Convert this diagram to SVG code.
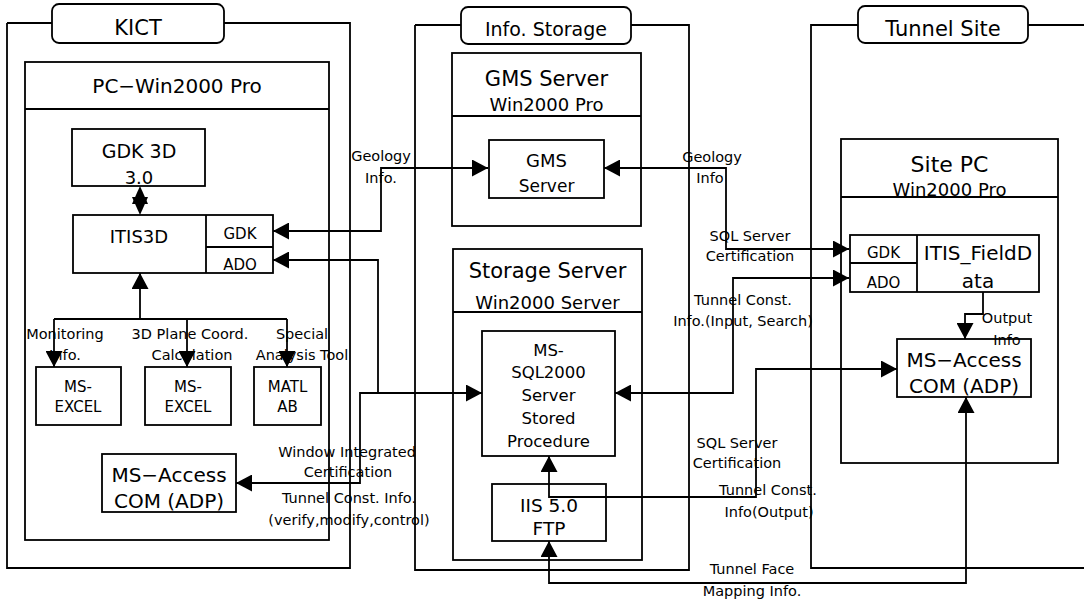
<svg xmlns="http://www.w3.org/2000/svg" width="1084" height="600" viewBox="0 0 1084 600">
<style>
rect,.bx{fill:#fff;stroke:#000;stroke-width:1.8}
.ln{fill:none;stroke:#000;stroke-width:1.8}
.cn{fill:none;stroke:#000;stroke-width:1.8}
text{font-family:"DejaVu Sans","Liberation Sans",sans-serif;fill:#000;text-anchor:middle}
.lb{font-size:14.5px}
</style>
<defs>
<marker id="ah" viewBox="0 0 16 17" refX="16" refY="8.5" markerWidth="16" markerHeight="17" markerUnits="userSpaceOnUse" orient="auto-start-reverse"><path d="M0,0L16,8.5L0,17z" fill="#000"/></marker>
</defs>

<g id="kict">
<path class="ln" d="M7,23V568H350V23H7"/>
<rect x="52" y="4" width="172" height="39" rx="7"/>
<text x="138" y="35" font-size="21">KICT</text>
</g>
<g id="pc">
<rect x="25" y="62" width="304" height="478"/>
<path class="ln" d="M25,109H329"/>
<text x="177" y="93" font-size="20">PC−Win2000 Pro</text>
</g>
<g id="gdk3d">
<rect x="72" y="129" width="133" height="57"/>
<text x="139" y="158" font-size="19">GDK 3D</text>
<text x="139" y="184" font-size="18">3.0</text>
</g>
<g id="itis3d">
<rect x="73" y="215" width="200" height="58"/>
<path class="ln" d="M206,215V273M206,247H273"/>
<text x="139" y="243" font-size="18">ITIS3D</text>
<text x="240" y="239" font-size="15">GDK</text>
<text x="240" y="270" font-size="15">ADO</text>
</g>
<g id="excel1">
<rect x="36" y="367" width="85" height="58"/>
<text x="78" y="392" font-size="15">MS-</text>
<text x="78" y="412" font-size="15">EXCEL</text>
</g>
<g id="excel2">
<rect x="145" y="367" width="86" height="58"/>
<text x="188" y="392" font-size="15">MS-</text>
<text x="188" y="412" font-size="15">EXCEL</text>
</g>
<g id="matlab">
<rect x="254" y="367" width="67" height="58"/>
<text x="287.5" y="392" font-size="15">MATL</text>
<text x="287.5" y="412" font-size="15">AB</text>
</g>
<g id="access1">
<rect x="102" y="454" width="134" height="58"/>
<text x="169" y="482" font-size="20">MS−Access</text>
<text x="169" y="508" font-size="20">COM (ADP)</text>
</g>

<g id="storage">
<path class="ln" d="M415,25V570H689V25H415"/>
<rect x="461" y="7" width="170" height="37" rx="7"/>
<text x="546" y="36" font-size="19">Info. Storage</text>
</g>
<g id="gmsserver">
<rect x="452" y="53" width="189" height="173"/>
<path class="ln" d="M452,116H641"/>
<text x="546.5" y="86" font-size="21">GMS Server</text>
<text x="546.5" y="111" font-size="18">Win2000 Pro</text>
</g>
<g id="gms">
<rect x="489" y="140" width="115" height="58"/>
<text x="546.5" y="167" font-size="18">GMS</text>
<text x="546.5" y="192" font-size="17">Server</text>
</g>
<g id="storageserver">
<rect x="453" y="249" width="189" height="311"/>
<path class="ln" d="M453,312H642"/>
<text x="547.5" y="278" font-size="21">Storage Server</text>
<text x="547.5" y="309" font-size="18">Win2000 Server</text>
</g>
<g id="mssql">
<rect x="482" y="331" width="133" height="125"/>
<text x="548.5" y="356" font-size="16.5">MS-</text>
<text x="548.5" y="378" font-size="16.5">SQL2000</text>
<text x="548.5" y="401" font-size="16.5">Server</text>
<text x="548.5" y="424" font-size="16.5">Stored</text>
<text x="548.5" y="447" font-size="16.5">Procedure</text>
</g>
<g id="iis">
<rect x="492" y="484" width="114" height="57"/>
<text x="549" y="512" font-size="18.5">IIS 5.0</text>
<text x="549" y="535" font-size="18.5">FTP</text>
</g>

<g id="tunnelsite">
<path class="ln" d="M1084,25H811V568H1084"/>
<rect x="858" y="6" width="170" height="37" rx="7"/>
<text x="943" y="36" font-size="21">Tunnel Site</text>
</g>
<g id="sitepc">
<rect x="841" y="139" width="217" height="324"/>
<path class="ln" d="M841,197H1058"/>
<text x="949.5" y="172" font-size="22">Site PC</text>
<text x="949.5" y="196" font-size="18">Win2000 Pro</text>
</g>
<g id="fielddata">
<rect x="850" y="235" width="189" height="57"/>
<path class="ln" d="M917,235V292M850,263H917"/>
<text x="978" y="260" font-size="20">ITIS_FieldD</text>
<text x="978" y="288" font-size="20">ata</text>
<text x="883.5" y="258" font-size="15">GDK</text>
<text x="883.5" y="288" font-size="15">ADO</text>
</g>
<g id="access2">
<rect x="897" y="339" width="134" height="58"/>
<text x="964" y="367" font-size="20">MS−Access</text>
<text x="964" y="393" font-size="20">COM (ADP)</text>
</g>

<g id="connectors">
<polygon points="140,186 148,204 132,204"/>
<polygon points="140,215 148,197 132,197"/>
<path class="cn" d="M140,319V273" marker-end="url(#ah)"/>
<path class="cn" d="M54,319H287"/>
<path class="cn" d="M54,319V367" marker-end="url(#ah)"/>
<path class="cn" d="M187,319V367" marker-end="url(#ah)"/>
<path class="cn" d="M287,319V367" marker-end="url(#ah)"/>
<path class="cn" d="M273,231H381V168H488" marker-start="url(#ah)" marker-end="url(#ah)"/>
<path class="cn" d="M273,260H378V393" marker-start="url(#ah)"/>
<path class="cn" d="M236,483H360V393H482" marker-start="url(#ah)" marker-end="url(#ah)"/>
<path class="cn" d="M604,168H726V249H849" marker-start="url(#ah)" marker-end="url(#ah)"/>
<path class="cn" d="M615,393H733V278H849" marker-start="url(#ah)" marker-end="url(#ah)"/>
<path class="cn" d="M549,456V497H756V369H897" marker-start="url(#ah)" marker-end="url(#ah)"/>
<path class="cn" d="M549,541V583H966V397" marker-start="url(#ah)" marker-end="url(#ah)"/>
<path class="cn" d="M983,292V314H965V339" marker-end="url(#ah)"/>
</g>

<g id="labels" class="lb">
<text x="381" y="161">Geology</text>
<text x="381" y="183">Info.</text>
<text x="712" y="162">Geology</text>
<text x="710" y="183">Info</text>
<text x="750" y="241">SQL Server</text>
<text x="750" y="261">Certification</text>
<text x="743" y="305">Tunnel Const.</text>
<text x="743" y="326">Info.(Input, Search)</text>
<text x="65" y="339">Monitoring</text>
<text x="65" y="360">Info.</text>
<text x="190" y="339">3D Plane Coord.</text>
<text x="192" y="360">Calculation</text>
<text x="302" y="339">Special</text>
<text x="302" y="360">Analysis Tool</text>
<text x="347" y="457">Window Integrated</text>
<text x="348" y="477">Certification</text>
<text x="349" y="503">Tunnel Const. Info.</text>
<text x="349" y="525">(verify,modify,control)</text>
<text x="737" y="448">SQL Server</text>
<text x="737" y="468">Certification</text>
<text x="768" y="495">Tunnel Const.</text>
<text x="769" y="517">Info(Output)</text>
<text x="752" y="574">Tunnel Face</text>
<text x="752" y="596">Mapping Info.</text>
<text x="1007" y="323">Output</text>
<text x="1007" y="345">Info</text>
</g>
</svg>
